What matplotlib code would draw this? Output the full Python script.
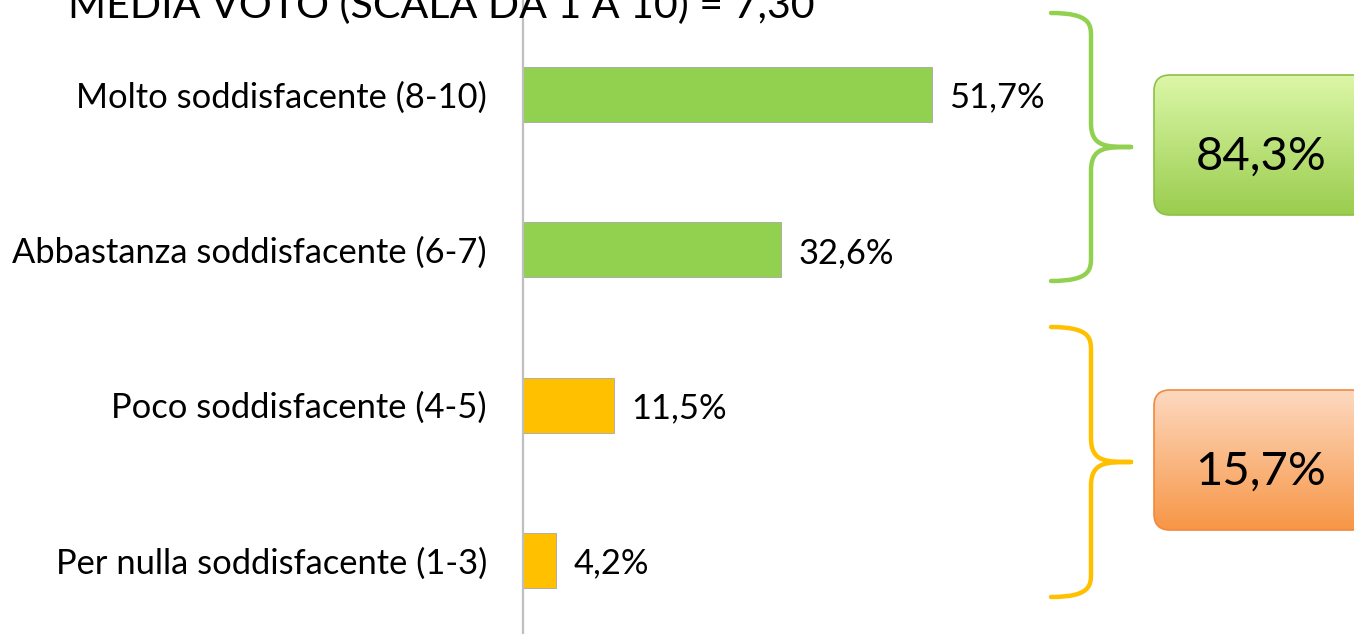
import numpy as np
import matplotlib
matplotlib.use("Agg")
import matplotlib.pyplot as plt
from matplotlib.path import Path
from matplotlib.patches import PathPatch, FancyBboxPatch

# data
categories = ["Molto soddisfacente (8-10)", "Abbastanza soddisfacente (6-7)",
              "Poco soddisfacente (4-5)", "Per nulla soddisfacente (1-3)"]
values = [51.7, 32.6, 11.5, 4.2]
bar_colors = ["#92D050", "#92D050", "#FFC000", "#FFC000"]
title = "MEDIA VOTO (SCALA DA 1 A 10) = 7,30"
group_totals = ["84,3%", "15,7%"]

W, H = 1354, 634
plt.rcParams["font.family"] = ["Lato", "DejaVu Sans"]

fig = plt.figure(figsize=(W / 100, H / 100), dpi=100)

# main bar axes (pixel layout from reference)
x0 = 523
ax = fig.add_axes([x0 / W, 0, (W - x0) / W, 1])
ax.barh(range(len(values)), values, height=0.354, color=bar_colors,
        edgecolor="#a6a6a6", linewidth=0.6)
ax.set_xlim(0, (W - x0) / 7.91)
ax.set_ylim(3.474, -0.608)
ax.set_yticks(range(len(values)))
ax.set_yticklabels(categories, fontsize=24.8, color="#000000")
ax.tick_params(axis="y", length=0, pad=26)
ax.set_xticks([])
for s in ["top", "right", "bottom"]:
    ax.spines[s].set_visible(False)
ax.spines["left"].set_color("#bfbfbf")
ax.spines["left"].set_linewidth(1.6)
ax.patch.set_alpha(0)
for i, v in enumerate(values):
    ax.text(v + 2.2, i + 0.02, f"{v:.1f}%".replace(".", ","), va="center",
            ha="left", fontsize=24.8, color="#000000")

# overlay in pixel coordinates for title, braces, boxes
ov = fig.add_axes([0, 0, 1, 1])
ov.set_xlim(0, W)
ov.set_ylim(H, 0)
ov.axis("off")
ov.patch.set_alpha(0)

ov.text(68, 18, title, fontsize=29.6, ha="left", va="baseline", color="#000000")


def brace(xl, ytop, ybot, xtip, color):
    ym = (ytop + ybot) / 2
    xv = xl + 40
    r = 24
    verts = [(xl, ytop), (xv, ytop), (xv, ytop + r / 2), (xv, ytop + r),
             (xv, ym - r),
             (xv, ym), (xtip - 25, ym), (xtip, ym),
             (xtip - 25, ym), (xv, ym), (xv, ym + r),
             (xv, ybot - r),
             (xv, ybot - r / 2), (xv, ybot), (xl, ybot)]
    codes = [Path.MOVETO, Path.CURVE4, Path.CURVE4, Path.CURVE4,
             Path.LINETO,
             Path.CURVE4, Path.CURVE4, Path.CURVE4,
             Path.CURVE4, Path.CURVE4, Path.CURVE4,
             Path.LINETO,
             Path.CURVE4, Path.CURVE4, Path.CURVE4]
    ov.add_patch(PathPatch(Path(verts, codes), fill=False, edgecolor=color,
                           lw=3.2, capstyle="round", joinstyle="round"))


brace(1051, 13, 281, 1131, "#92D050")
brace(1051, 327, 597, 1131, "#FFC000")


def grad_box(x, y, w, h, top, bot, edge, label):
    box = FancyBboxPatch((x, y), w, h, boxstyle="round,pad=0,rounding_size=16",
                         facecolor="none", edgecolor=edge, lw=1.2, zorder=3)
    ov.add_patch(box)
    grad = np.linspace(0, 1, 256)[:, None]
    c1 = np.array(matplotlib.colors.to_rgb(top))
    c2 = np.array(matplotlib.colors.to_rgb(bot))
    img = c1 + (c2 - c1) * grad[..., None]
    im = ov.imshow(img, extent=(x, x + w, y + h, y), aspect="auto", zorder=2)
    im.set_clip_path(box)
    ov.text(x + 107, y + h / 2 + 12, label, fontsize=34, ha="center",
            va="center", color="#000000", zorder=4)


grad_box(1154, 75, 215, 140, "#dcf7a8", "#9acd4e", "#8fbf4a", group_totals[0])
grad_box(1154, 390, 215, 140, "#fdd9c0", "#f79646", "#f08a3e", group_totals[1])
ov.set_xlim(0, W)
ov.set_ylim(H, 0)

fig.savefig("out.png", dpi=100)
